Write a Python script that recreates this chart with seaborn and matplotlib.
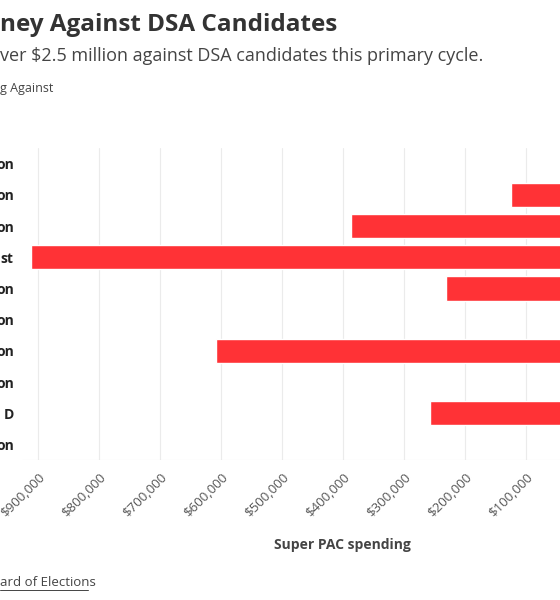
import matplotlib
matplotlib.use("Agg")
import matplotlib.pyplot as plt
import seaborn as sns
import pandas as pd

categories = ["c1", "c2", "c3", "c4", "c5", "c6", "c7", "c8", "c9", "c10"]
labels = ["on", "on", "on", "st", "on", "on", "on", "on", "D", "on"]
spending = [0, 124000, 387000, 911000, 231000, 0, 608000, 0, 257000, 0]
ticks = [100000, 200000, 300000, 400000, 500000, 600000, 700000, 800000, 900000]
tick_labels = ["$100,000", "$200,000", "$300,000", "$400,000", "$500,000",
               "$600,000", "$700,000", "$800,000", "$900,000"]

sns.set_theme(style="whitegrid")
plt.rcParams['font.family'] = ['Open Sans', 'DejaVu Sans']

df = pd.DataFrame({"cat": categories, "val": spending})
fig = plt.figure(figsize=(5.6, 6), dpi=100)
ax = fig.add_axes([22/560, 1-460/600, 1-22/560, (460-148)/600])
sns.barplot(data=df, x="val", y="cat", orient="h", color="#ff3236", width=0.78,
            saturation=1, ax=ax)
ax.set_xlim(926000, 44000)
ax.set_xticks(ticks)
ax.set_xticklabels(tick_labels, rotation=45, ha="right", rotation_mode="anchor",
                   color="#555555", fontsize=9.5)
ax.tick_params(axis="x", pad=8, length=0)
ax.tick_params(axis="y", length=0, pad=6)
ax.set_yticks(range(len(categories)))
ax.set_yticklabels(labels, fontsize=10, fontweight="bold", color="#222222")
ax.set_ylabel("")
ax.set_xlabel("")
ax.grid(axis="y", visible=False)
ax.grid(axis="x", color="#ebebeb", linewidth=0.8)
for s in ax.spines.values():
    s.set_visible(False)
ax.axhline(ax.get_ylim()[0], color="#e6e6e6", linewidth=0.8)

fig.text(342/560, 1-545/600, "Super PAC spending", ha="center", va="center",
         fontsize=10, fontweight="bold", color="#444444")
fig.text(0, 1-25/600, "ney Against DSA Candidates", ha="left", va="center",
         fontsize=17.5, fontweight="bold", color="#333333")
fig.text(0, 1-56/600, "ver $2.5 million against DSA candidates this primary cycle.",
         ha="left", va="center", fontsize=13, color="#444444")
fig.text(0, 1-88/600, "g Against", ha="left", va="center", fontsize=9, color="#444444")
fig.text(0, 1-582/600, "ard of Elections", ha="left", va="center",
         fontsize=9.5, color="#444444")
fig.add_artist(plt.Line2D([0, 88/560], [1-590/600, 1-590/600], color="#444444",
                          linewidth=0.7, transform=fig.transFigure))
fig.savefig("out.png", dpi=100)
